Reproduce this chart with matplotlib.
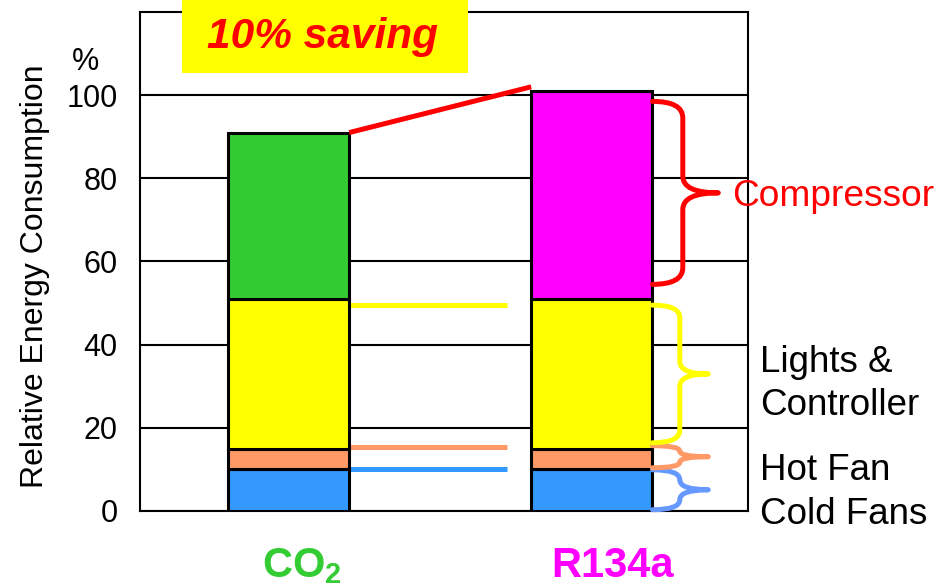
import numpy as np
import matplotlib.pyplot as plt
import matplotlib.transforms as mtransforms
from matplotlib.patches import Rectangle, PathPatch
from matplotlib.path import Path

plt.rcParams['font.family'] = ['Liberation Sans', 'DejaVu Sans']
plt.rcParams['mathtext.fontset'] = 'custom'
plt.rcParams['mathtext.rm'] = 'Liberation Sans'
plt.rcParams['mathtext.bf'] = 'Liberation Sans:bold'

# relative energy consumption, % of the R134a cabinet
refrigerants = [r'$\mathbf{CO_2}$', 'R134a']
label_colors = ['#33cc33', '#ff00ff']
cold_fans = [10, 10]
hot_fan = [5, 5]
lights = [36, 36]
compressor = [40, 50]

comp_colors = ['#3399ff', '#ff9966', '#ffff00', None]
brace_colors = ['#6699ff', '#ff9966', '#ffff00', '#ff0000']


def brace(ax, x0, xv, xt, y0, y1, r, color):
    ym = (y0 + y1) / 2
    verts = [(x0, y1), (xv, y1), (xv, y1 - r),
             (xv, ym + r), (xv, ym), (xt, ym),
             (xv, ym), (xv, ym - r),
             (xv, y0 + r), (xv, y0), (x0, y0)]
    codes = [Path.MOVETO, Path.CURVE3, Path.CURVE3,
             Path.LINETO, Path.CURVE3, Path.CURVE3,
             Path.CURVE3, Path.CURVE3,
             Path.LINETO, Path.CURVE3, Path.CURVE3]
    p = PathPatch(Path(verts, codes), fill=False, edgecolor=color, lw=3.6,
                  capstyle='round', joinstyle='round', clip_on=False, zorder=4)
    ax.add_patch(p)


fig = plt.figure(figsize=(9.37, 5.87), dpi=100)
ax = fig.add_axes([0.1494, 0.1295, 0.6489, 0.8501])

x = np.arange(len(refrigerants))
width = 0.4
stack = [cold_fans, hot_fan, lights, compressor]
bottom = np.zeros(len(x))
tops = []
for i, vals in enumerate(stack):
    cols = comp_colors[i] if comp_colors[i] else label_colors
    ax.bar(x, vals, width, bottom=bottom, color=cols, edgecolor='black',
           linewidth=2.2, zorder=3)
    bottom = bottom + np.array(vals)
    tops.append(bottom.copy())

ax.set_xlim(-0.49, 1.515)
ax.set_ylim(0, 120)
ax.set_yticks(range(0, 101, 20))
ax.tick_params(axis='y', length=0, pad=16, labelsize=22)
ax.set_xticks([])
ax.grid(axis='y', color='black', lw=1.5, zorder=0)
for s in ax.spines.values():
    s.set_linewidth(1.5)

# category labels under the bars
tr = mtransforms.blended_transform_factory(ax.transData, ax.transAxes)
label_shift = [0.045, 0.07]
for i, name in enumerate(refrigerants):
    ax.text(x[i] + label_shift[i], -0.132, name, transform=tr, ha='center',
            va='baseline', fontsize=30, fontweight='bold', color=label_colors[i])

# connecting lines from the CO2 bar
conn_x = [x[0] + width / 2, 0.72]
ax.plot(conn_x, [tops[0][0]] * 2, color='#3399ff', lw=3.6, zorder=2,
        solid_capstyle='butt')
ax.plot(conn_x, [tops[1][0] + 0.3] * 2, color='#ff9966', lw=3.6, zorder=2,
        solid_capstyle='butt')
ax.plot(conn_x, [tops[2][0] - 1.5] * 2, color='#ffff00', lw=3.6, zorder=2,
        solid_capstyle='butt')
ax.plot([x[0] + width / 2, x[1] - width / 2], [tops[3][0], tops[3][1] + 1],
        color='#ff0000', lw=3.6, zorder=4, solid_capstyle='butt')

# braces beside the R134a bar
edge = x[1] + width / 2
lows = [0.3, tops[0][1] + 0.4, tops[1][1] + 1.4, tops[2][1] + 3.5]
highs = [tops[0][1] - 0.1, tops[1][1] + 0.7, tops[2][1] - 1.5, tops[3][1] - 2.5]
for i in range(4):
    span = highs[i] - lows[i]
    if i == 3:
        brace(ax, edge, 1.30, 1.417, lows[i], highs[i], 4, brace_colors[i])
    else:
        brace(ax, edge, 1.29, 1.384, lows[i], highs[i], min(3, span / 4),
              brace_colors[i])

ax.text(1.463, 75.7, 'Compressor', color='#ff0000', fontsize=26.7,
        va='center', ha='left', clip_on=False)
ax.text(1.555, 30.6, 'Lights &\nController', color='black', fontsize=26.5,
        va='center', ha='left', linespacing=1.3, clip_on=False)
ax.text(1.555, 9.8, 'Hot Fan', color='black', fontsize=26.5,
        va='center', ha='left', clip_on=False)
ax.text(1.555, -0.9, 'Cold Fans', color='black', fontsize=26.5,
        va='center', ha='left', clip_on=False)

ax.text(-0.173, 0.471, 'Relative Energy Consumption', transform=ax.transAxes,
        rotation=90, ha='center', va='center', fontsize=23)
ax.text(-0.09, 107.9, '%', transform=ax.get_yaxis_transform(),
        ha='center', va='center', fontsize=22)

# highlight box
fig.add_artist(Rectangle((0.1942, 0.8756), 0.3052, 0.1244, transform=fig.transFigure,
                         facecolor='#ffff00', edgecolor='none', zorder=5))
fig.text(0.3437, 0.937, '10% saving', color='#ff0000', fontsize=30.5,
         fontweight='bold', fontstyle='italic', ha='center', va='center', zorder=6)

fig.savefig('out.png', dpi=100)
